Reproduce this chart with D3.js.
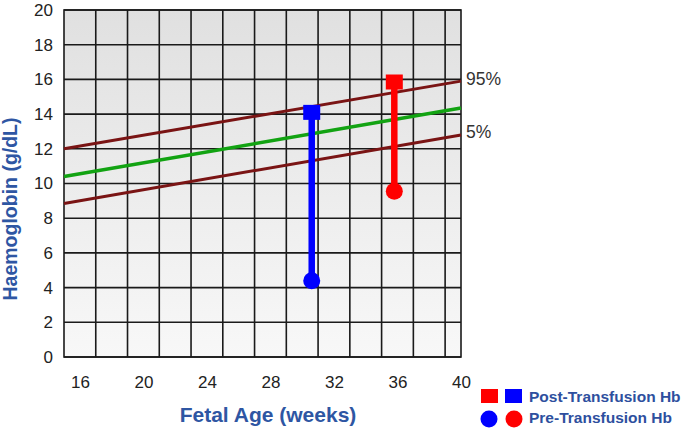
<!DOCTYPE html>
<html>
<head>
<meta charset="utf-8">
<script src="https://cdn.jsdelivr.net/npm/d3@7"></script>
<style>
  body { margin: 0; background: #fff; }
  text { font-family: "Liberation Sans", Arial, sans-serif; }
</style>
</head>
<body>
<script>
// reference lines (start and end at the plot edges)
const lineWeeks = [15, 40];
const p95 = [12.0, 15.9];
const median = [10.4, 14.35];
const p5 = [8.85, 12.8];

// transfusions
const transWeeks = [30.6, 35.8];
const preHb = [4.4, 9.55];
const postHb = [14.1, 15.85];
const transColors = ["#0000ff", "#ff0000"];

const xTicks = [16, 20, 24, 28, 32, 36, 40];
const xGrid = [17, 19, 21, 23, 25, 27, 29, 31, 33, 35, 37, 39];
const yTicks = [0, 2, 4, 6, 8, 10, 12, 14, 16, 18, 20];

const w = 685;
const h = 431;
const pLeft = 64, pRight = 461, pTop = 10, pBottom = 357;

const svg = d3.select("body")
    .append("svg")
    .attr("width", w)
    .attr("height", h);

const x = d3.scaleLinear().domain([15, 40]).range([pLeft, pRight]);
const y = d3.scaleLinear().domain([0, 20]).range([pBottom, pTop]);

// plot background gradient
const grad = svg.append("defs").append("linearGradient")
    .attr("id", "bg").attr("x1", 0).attr("y1", 0).attr("x2", 0).attr("y2", 1);
grad.append("stop").attr("offset", "0%").attr("stop-color", "#e0e0e0");
grad.append("stop").attr("offset", "100%").attr("stop-color", "#f8f8f8");

svg.append("rect")
    .attr("x", pLeft).attr("y", pTop)
    .attr("width", pRight - pLeft).attr("height", pBottom - pTop)
    .attr("fill", "url(#bg)");

// grid
const grid = svg.append("g").attr("stroke", "#1a1a1a").attr("stroke-width", 1.6);
grid.selectAll("line.v")
    .data(xGrid)
    .enter().append("line")
    .attr("class", "v")
    .attr("x1", d => x(d)).attr("x2", d => x(d))
    .attr("y1", pTop).attr("y2", pBottom);
grid.selectAll("line.h")
    .data(yTicks)
    .enter().append("line")
    .attr("class", "h")
    .attr("x1", pLeft).attr("x2", pRight)
    .attr("y1", d => y(d)).attr("y2", d => y(d));

svg.append("rect")
    .attr("x", pLeft).attr("y", pTop)
    .attr("width", pRight - pLeft).attr("height", pBottom - pTop)
    .attr("fill", "none").attr("stroke", "#1a1a1a").attr("stroke-width", 1.6);

// axes (labels only)
const yAxis = svg.append("g")
    .attr("transform", "translate(" + (pLeft - 11) + ",0)")
    .call(d3.axisLeft(y).tickValues(yTicks).tickSize(0).tickPadding(0));
yAxis.select(".domain").remove();
yAxis.selectAll("text")
    .attr("font-size", 17).attr("fill", "#222")
    .style("font-family", "Liberation Sans, Arial, sans-serif");

const xAxis = svg.append("g")
    .attr("transform", "translate(0," + (pBottom + 19) + ")")
    .call(d3.axisBottom(x).tickValues(xTicks).tickSize(0).tickPadding(0));
xAxis.select(".domain").remove();
xAxis.selectAll("text")
    .attr("font-size", 17).attr("fill", "#222")
    .style("font-family", "Liberation Sans, Arial, sans-serif");

// percentile lines
const line = d3.line().x(d => x(d[0])).y(d => y(d[1]));
const series = [
    {vals: p95, color: "#7a1414", sw: 3},
    {vals: median, color: "#12a312", sw: 3.5},
    {vals: p5, color: "#7a1414", sw: 3}
];
svg.selectAll("path.ref")
    .data(series)
    .enter().append("path")
    .attr("class", "ref")
    .attr("d", s => line(lineWeeks.map((wk, i) => [wk, s.vals[i]])))
    .attr("fill", "none")
    .attr("stroke", s => s.color)
    .attr("stroke-width", s => s.sw);

svg.append("text")
    .attr("x", pRight + 5).attr("y", y(p95[1]) + 4)
    .attr("font-size", 17.5).attr("fill", "#333")
    .text("95%");
svg.append("text")
    .attr("x", pRight + 5).attr("y", y(p5[1]) + 3)
    .attr("font-size", 17.5).attr("fill", "#333")
    .text("5%");

// transfusion bars
const trans = transWeeks.map((wk, i) => ({wk: wk, pre: preHb[i], post: postHb[i], c: transColors[i]}));
svg.selectAll("line.t")
    .data(trans)
    .enter().append("line")
    .attr("class", "t")
    .attr("x1", d => x(d.wk)).attr("x2", d => x(d.wk))
    .attr("y1", d => y(d.pre)).attr("y2", d => y(d.post))
    .attr("stroke", d => d.c).attr("stroke-width", 6.5);
svg.selectAll("rect.post")
    .data(trans)
    .enter().append("rect")
    .attr("class", "post")
    .attr("x", d => x(d.wk) - 8.5).attr("y", d => y(d.post) - 7.5)
    .attr("width", 17).attr("height", 15)
    .attr("fill", d => d.c);
svg.selectAll("circle.pre")
    .data(trans)
    .enter().append("circle")
    .attr("class", "pre")
    .attr("cx", d => x(d.wk)).attr("cy", d => y(d.pre))
    .attr("r", 8.5)
    .attr("fill", d => d.c);

// axis titles
svg.append("text")
    .attr("transform", "translate(17,209) rotate(-90)")
    .attr("text-anchor", "middle")
    .attr("font-size", 19.5).attr("font-weight", "bold").attr("fill", "#2e56a3")
    .text("Haemoglobin (g/dL)");
svg.append("text")
    .attr("x", 268).attr("y", 421.5)
    .attr("text-anchor", "middle")
    .attr("font-size", 21).attr("font-weight", "bold").attr("fill", "#2e56a3")
    .text("Fetal Age (weeks)");

// legend
const lg = svg.append("g");
lg.append("rect").attr("x", 481).attr("y", 389).attr("width", 17).attr("height", 14).attr("fill", "#ff0000");
lg.append("rect").attr("x", 505).attr("y", 389).attr("width", 17).attr("height", 14).attr("fill", "#0000ff");
lg.append("circle").attr("cx", 489).attr("cy", 419).attr("r", 8.5).attr("fill", "#0000ff");
lg.append("circle").attr("cx", 514).attr("cy", 419).attr("r", 8.5).attr("fill", "#ff0000");
lg.append("text").attr("x", 529).attr("y", 401.5)
    .attr("font-size", 15.5).attr("font-weight", "bold").attr("fill", "#2e4f9e")
    .text("Post-Transfusion Hb");
lg.append("text").attr("x", 529).attr("y", 423)
    .attr("font-size", 15.5).attr("font-weight", "bold").attr("fill", "#2e4f9e")
    .text("Pre-Transfusion Hb");
</script>
</body>
</html>
